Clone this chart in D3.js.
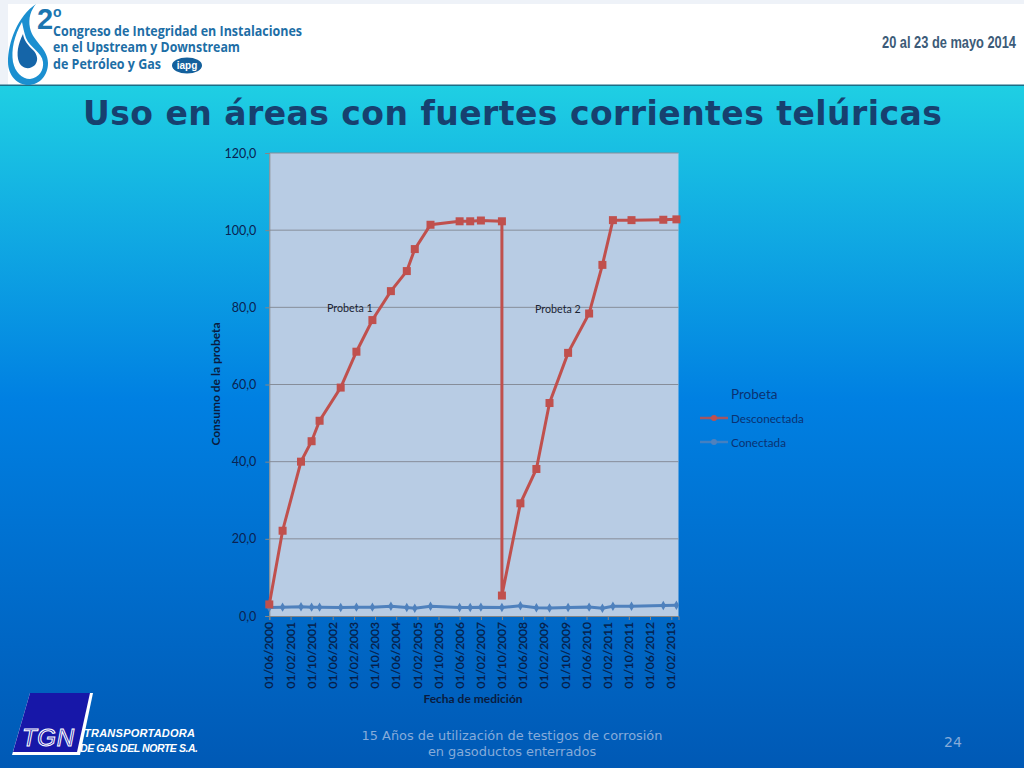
<!DOCTYPE html>
<html>
<head>
<meta charset="utf-8">
<script src="https://cdn.jsdelivr.net/npm/d3@7"></script>
<style>
  html, body { margin: 0; padding: 0; background: #0070d0; overflow: hidden; }
  svg { display: block; }
  .tick text { font-family: Lato, sans-serif; }
</style>
</head>
<body>
<svg id="slide" width="1024" height="768"></svg>
<script>
// chart data
const tickLabels = ["01/06/2000","01/02/2001","01/10/2001","01/06/2002","01/02/2003","01/10/2003","01/06/2004",
  "01/02/2005","01/10/2005","01/06/2006","01/02/2007","01/10/2007","01/06/2008","01/02/2009","01/10/2009",
  "01/06/2010","01/02/2011","01/10/2011","01/06/2012","01/02/2013"];
const yTicks = [0, 20, 40, 60, 80, 100, 120];
const dates = ["01/06/2000","01/11/2000","01/06/2001","01/10/2001","01/01/2002","01/09/2002","01/03/2003","01/09/2003",
  "01/04/2004","01/10/2004","01/01/2005","01/07/2005","01/06/2006","01/10/2006","01/02/2007","01/10/2007",
  "01/05/2008","01/11/2008","01/04/2009","01/11/2009","01/07/2010","01/12/2010","01/04/2011","01/11/2011",
  "01/11/2012","01/04/2013"];
const probeta1 = [3.0,22.1,40.0,45.3,50.6,59.2,68.5,76.7,84.2,89.4,95.1,101.4,102.3,102.3,102.5,102.3];
const probeta2 = [5.3,29.2,38.1,55.2,68.2,78.4,91.0,102.6,102.6,102.7,102.8];
const conectada = [2.2,2.3,2.4,2.3,2.3,2.2,2.3,2.3,2.5,2.2,2.0,2.5,2.2,2.2,2.3,2.2,2.65,2.15,2.05,2.2,2.3,2.0,2.5,2.5,2.7,2.8];

const parseDate = d3.timeParse("%d/%m/%Y");
const desconectadaDates = dates.slice(0, probeta1.length).concat(dates.slice(probeta1.length - 1));
const desconectada = probeta1.concat(probeta2).map((v, i) => ({date: parseDate(desconectadaDates[i]), value: v}));
const conectadaPts = conectada.map((v, i) => ({date: parseDate(dates[i]), value: v}));

const svg = d3.select("#slide");
const defs = svg.append("defs");
const grad = defs.append("linearGradient").attr("id", "bg").attr("x1", 0).attr("y1", 0).attr("x2", 0).attr("y2", 1);
grad.append("stop").attr("offset", "0%").attr("stop-color", "#1fcfe3");
grad.append("stop").attr("offset", "46%").attr("stop-color", "#0080e2");
grad.append("stop").attr("offset", "100%").attr("stop-color", "#0059b5");

// background + header
svg.append("rect").attr("y", 85).attr("width", 1024).attr("height", 683).attr("fill", "url(#bg)");
svg.append("rect").attr("width", 1024).attr("height", 85).attr("fill", "#eef2f8");
svg.append("rect").attr("x", 8).attr("y", 4).attr("width", 1016).attr("height", 81).attr("fill", "#fff");
svg.append("rect").attr("y", 84.5).attr("width", 1024).attr("height", 1.5).attr("fill", "#1c6d86");

// congress logo
const logo = svg.append("g");
logo.append("path").attr("d", "M36 4 C18 16 8 42 8 62 C8 76 18 85 28 85 C40 85 48 75 48 63 C48 48 33 42 30 28 C28 18 31 10 36 4 Z").attr("fill", "#1b8fd0");
logo.append("path").attr("d", "M22 22 C14 36 11 50 13 62 C15 72 22 79 30 79 C39 78 44 70 43 62 C42 52 30 48 26 38 C24 32 23 27 22 22 Z").attr("fill", "#fff");
logo.append("path").attr("d", "M23 34 C18 44 16 54 19 62 C22 69 30 70 35 65 C39 60 37 54 33 50 C28 45 24 41 23 34 Z").attr("fill", "#1565a8");
logo.append("text").text("2").attr("x", 37).attr("y", 29).attr("font-family", "Liberation Sans").attr("font-weight", "bold").attr("font-size", 29).attr("fill", "#1b75b0");
logo.append("text").text("o").attr("x", 53).attr("y", 17).attr("font-family", "Liberation Sans").attr("font-weight", "bold").attr("font-size", 14).attr("fill", "#1b75b0");
const headLines = [["Congreso de Integridad en Instalaciones", 36, 249], ["en el Upstream y Downstream", 52, 187], ["de Petróleo y Gas", 69, 108]];
headLines.forEach(([t, ly, len]) => {
  logo.append("text").text(t).attr("x", 53).attr("y", ly)
    .attr("font-family", "Open Sans, sans-serif").attr("font-weight", "bold").attr("font-size", 13.5)
    .attr("textLength", len).attr("lengthAdjust", "spacingAndGlyphs").attr("fill", "#1d6ea6");
});
logo.append("ellipse").attr("cx", 187).attr("cy", 65.5).attr("rx", 15).attr("ry", 8).attr("fill", "#14609c");
logo.append("text").text("iapg").attr("x", 187).attr("y", 69).attr("text-anchor", "middle")
  .attr("font-family", "Liberation Sans").attr("font-weight", "bold").attr("font-size", 10).attr("fill", "#fff");
svg.append("text").text("20 al 23 de mayo 2014").attr("x", 882).attr("y", 48)
  .attr("font-family", "Liberation Sans").attr("font-weight", "bold").attr("font-size", 16)
  .attr("textLength", 134).attr("lengthAdjust", "spacingAndGlyphs").attr("fill", "#3c5b78");

svg.append("text").text("Uso en áreas con fuertes corrientes telúricas").attr("x", 512.5).attr("y", 125).attr("text-anchor", "middle")
  .attr("font-family", "DejaVu Sans").attr("font-weight", "bold").attr("font-size", 33).attr("textLength", 859).attr("fill", "#17406f");

// chart
const plotLeft = 269.3, plotRight = 678.5, plotTop = 153, plotBottom = 616;
const x = d3.scaleTime().domain([parseDate("01/06/2000"), parseDate("25/04/2013")]).range([plotLeft, plotRight]);
const y = d3.scaleLinear().domain([0, 120]).range([plotBottom, plotTop]);
const numFmt = d => d3.format(".1f")(d).replace(".", ",");

const chart = svg.append("g");
chart.append("rect").attr("x", plotLeft).attr("y", plotTop).attr("width", plotRight - plotLeft).attr("height", plotBottom - plotTop).attr("fill", "#b8cce4");
chart.append("g").selectAll("line").data(yTicks.slice(1)).join("line")
  .attr("x1", plotLeft).attr("x2", plotRight).attr("y1", d => y(d)).attr("y2", d => y(d))
  .attr("stroke", "#868d99").attr("stroke-width", 1);

const yAxis = chart.append("g").attr("transform", `translate(${plotLeft},0)`)
  .call(d3.axisLeft(y).tickValues(yTicks).tickFormat(numFmt).tickSize(4).tickPadding(9));
yAxis.selectAll("text").attr("font-size", 12.5).attr("fill", "#0a2352");
yAxis.selectAll("line,path").attr("stroke", "#868686");

const xAxis = chart.append("g").attr("transform", `translate(0,${plotBottom})`)
  .call(d3.axisBottom(x).tickValues(tickLabels.map(parseDate)).tickFormat(d3.timeFormat("%d/%m/%Y")).tickSize(4));
xAxis.selectAll("line,path").attr("stroke", "#868686");
xAxis.selectAll("text").attr("font-size", 12).attr("fill", "#071d47")
  .attr("stroke", "#071d47").attr("stroke-width", 0.25)
  .attr("text-anchor", "end").attr("transform", "rotate(-90)").attr("x", -6).attr("y", 0).attr("dy", "0.3em");

const line = d3.line().x(d => x(d.date)).y(d => y(d.value));
chart.append("path").datum(conectadaPts).attr("d", line).attr("fill", "none").attr("stroke", "#4f81bd").attr("stroke-width", 3);
chart.append("g").selectAll("path").data(conectadaPts).join("path")
  .attr("d", d3.symbol(d3.symbolDiamond, 26))
  .attr("transform", d => `translate(${x(d.date)},${y(d.value)})`).attr("fill", "#4f81bd");
chart.append("path").datum(desconectada).attr("d", line).attr("fill", "none").attr("stroke", "#c0504d").attr("stroke-width", 3);
chart.append("g").selectAll("rect").data(desconectada).join("rect")
  .attr("x", d => x(d.date) - 4).attr("y", d => y(d.value) - 4).attr("width", 8).attr("height", 8).attr("fill", "#c0504d");

// series notes inside the plot
const noteStyle = s => s.attr("font-family", "Lato, sans-serif").attr("font-size", 10.7).attr("fill", "#1a2433");
chart.append("text").text("Probeta 1").attr("x", 327).attr("y", 312).call(noteStyle);
chart.append("text").text("Probeta 2").attr("x", 535).attr("y", 313).call(noteStyle);

// axis titles
const titleStyle = s => s.attr("font-family", "Lato, sans-serif").attr("font-weight", "bold").attr("font-size", 12).attr("fill", "#0a1c40").attr("text-anchor", "middle");
chart.append("text").text("Fecha de medición").attr("x", 473).attr("y", 703).call(titleStyle);
chart.append("text").text("Consumo de la probeta").attr("transform", "translate(220,384) rotate(-90)").call(titleStyle);

// legend
const legend = svg.append("g").attr("font-family", "Lato, sans-serif").attr("fill", "#0b3272");
legend.append("text").text("Probeta").attr("x", 731).attr("y", 399).attr("font-size", 13.5);
const legendRows = [["Desconectada", "#c0504d", 418], ["Conectada", "#4f81bd", 442]];
legendRows.forEach(([name, color, ly]) => {
  legend.append("line").attr("x1", 700).attr("x2", 728).attr("y1", ly).attr("y2", ly).attr("stroke", color).attr("stroke-width", 2.5).attr("opacity", 0.85);
  legend.append("circle").attr("cx", 714).attr("cy", ly).attr("r", 3).attr("fill", color);
  legend.append("text").text(name).attr("x", 731).attr("y", ly + 5).attr("font-size", 11.7);
});

// footer
const tgn = svg.append("g");
tgn.append("path").attr("d", "M30 693 H93 L80 755 H12 Z").attr("fill", "#fff");
tgn.append("path").attr("d", "M30 693 H90 L77 752 H13 Z").attr("fill", "#1717a8");
tgn.append("text").text("TGN").attr("x", 48).attr("y", 746).attr("text-anchor", "middle")
  .attr("font-family", "Liberation Sans").attr("font-style", "italic").attr("font-size", 24).attr("textLength", 52)
  .attr("fill", "#1717a8").attr("stroke", "#fff").attr("stroke-width", 1);
const tgnText = s => s.attr("font-family", "Liberation Sans").attr("font-style", "italic").attr("font-weight", "bold").attr("fill", "#fff");
tgn.append("text").text("TRANSPORTADORA").attr("x", 84).attr("y", 737).attr("font-size", 11).attr("textLength", 111).call(tgnText);
tgn.append("text").text("DE GAS DEL NORTE S.A.").attr("x", 80).attr("y", 752).attr("font-size", 10.5).attr("textLength", 118).call(tgnText);

const footStyle = s => s.attr("font-family", "DejaVu Sans").attr("font-size", 12.9).attr("fill", "#86abd9").attr("text-anchor", "middle");
svg.append("text").text("15 Años de utilización de testigos de corrosión").attr("x", 512).attr("y", 740).call(footStyle);
svg.append("text").text("en gasoductos enterrados").attr("x", 512).attr("y", 756).call(footStyle);
svg.append("text").text("24").attr("x", 953).attr("y", 747).call(footStyle).attr("font-size", 14);
</script>
</body>
</html>
